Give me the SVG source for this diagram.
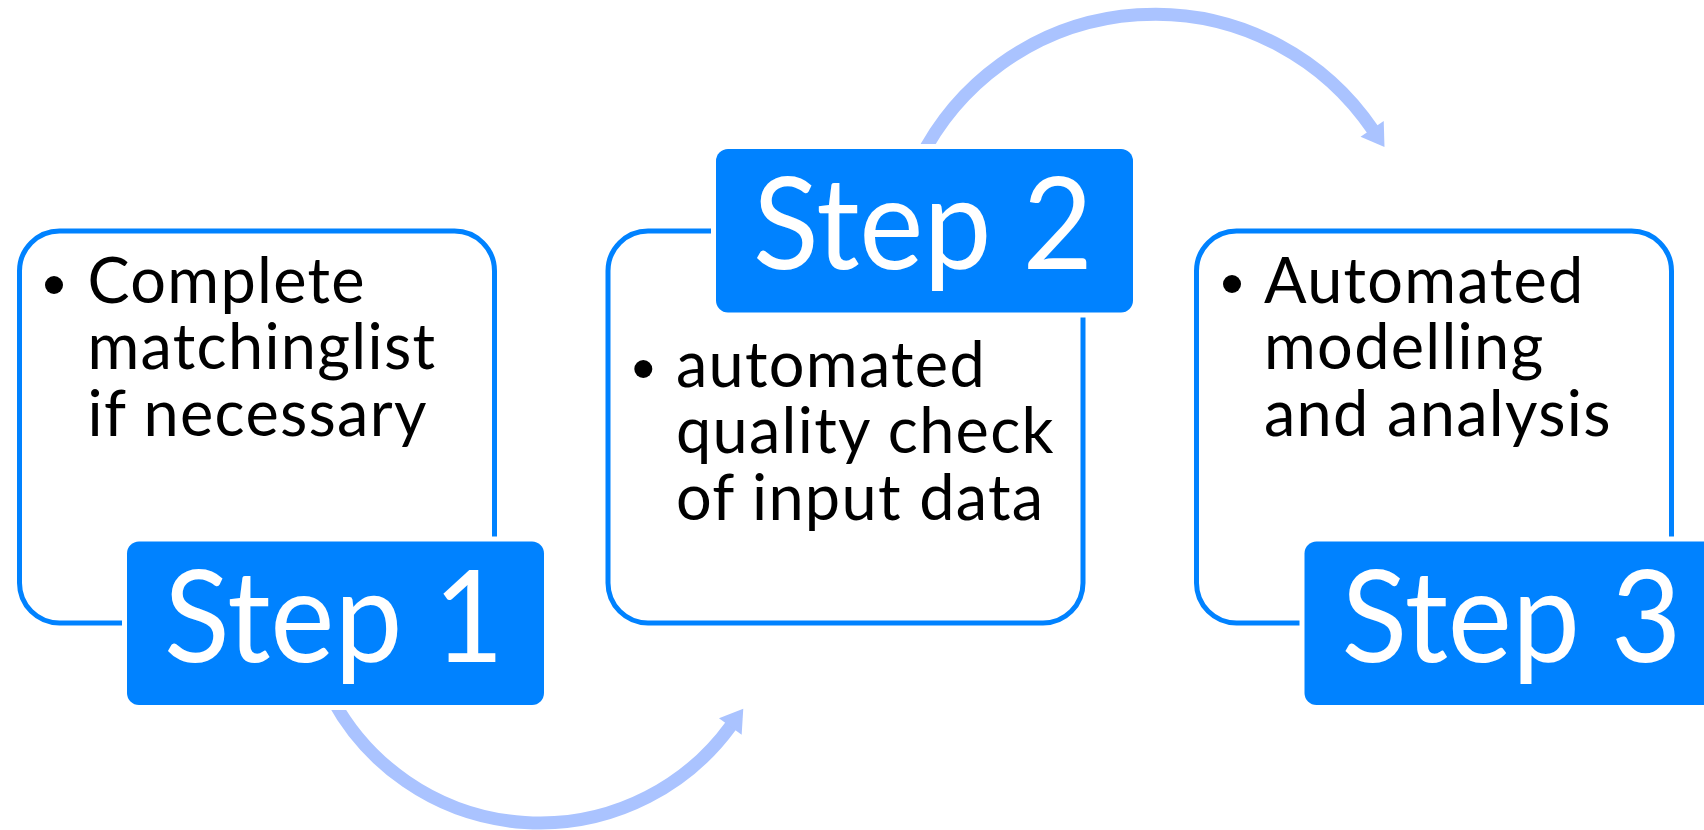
<svg xmlns="http://www.w3.org/2000/svg" width="1704" height="830" viewBox="0 0 1704 830">
  <style>
    .frame { fill: #ffffff; stroke: #0082ff; stroke-width: 5; }
    .tab { fill: #0082ff; stroke: #ffffff; stroke-width: 10; paint-order: stroke; }
    .tab-label { font-family: Lato, "Liberation Sans", sans-serif; font-size: 128px; fill: #ffffff; }
    .body { font-family: Lato, "Liberation Sans", sans-serif; font-size: 63px; letter-spacing: 1.3px; fill: #000000; }
    .dot { fill: #000000; }
    .flow { fill: none; stroke: #aac3ff; stroke-width: 13; marker-end: url(#head); }
  </style>
  <defs>
    <marker id="head" markerUnits="userSpaceOnUse" markerWidth="26" markerHeight="32" refX="1" refY="16" orient="auto" overflow="visible">
      <path d="M0,2 L22,16 L0,30 Z" fill="#aac3ff"/>
    </marker>
  </defs>

  <!-- curved arrows between the steps (drawn first so the tabs sit on top) -->
  <g id="connectors">
    <path class="flow" d="M332.8,700 A236,236 0 0 0 730.9,725.7"/>
    <path class="flow" d="M919.5,160 A263,263 0 0 1 1372.7,129.7"/>
  </g>

  <g id="step1">
    <rect class="frame" x="19.5" y="231" width="475" height="392" rx="40"/>
    <circle class="dot" cx="54" cy="285" r="9"/>
    <text class="body" x="87.5" y="302.7">Complete<tspan x="87.5" dy="66.65">matchinglist</tspan><tspan x="87.5" dy="66.65">if necessary</tspan></text>
    <rect class="tab" x="127" y="541.5" width="417" height="163.5" rx="12"/>
    <text class="tab-label" x="164" y="661.5" textLength="340" lengthAdjust="spacingAndGlyphs">Step 1</text>
  </g>

  <g id="step2">
    <rect class="frame" x="608" y="231" width="475" height="392" rx="40"/>
    <circle class="dot" cx="643.3" cy="369" r="9"/>
    <text class="body" x="676" y="386.7">automated<tspan x="676" dy="66.65">quality check</tspan><tspan x="676" dy="66.65">of input data</tspan></text>
    <rect class="tab" x="716" y="149" width="417" height="163.5" rx="12"/>
    <text class="tab-label" x="753" y="269" textLength="340" lengthAdjust="spacingAndGlyphs">Step 2</text>
  </g>

  <g id="step3">
    <rect class="frame" x="1196.5" y="231" width="475" height="392" rx="40"/>
    <circle class="dot" cx="1232" cy="284" r="9"/>
    <text class="body" x="1264" y="302.7">Automated<tspan x="1264" dy="66.65">modelling</tspan><tspan x="1264" dy="66.65">and analysis</tspan></text>
    <rect class="tab" x="1304.5" y="541.5" width="417" height="163.5" rx="12"/>
    <text class="tab-label" x="1341.5" y="661.5" textLength="340" lengthAdjust="spacingAndGlyphs">Step 3</text>
  </g>
</svg>
